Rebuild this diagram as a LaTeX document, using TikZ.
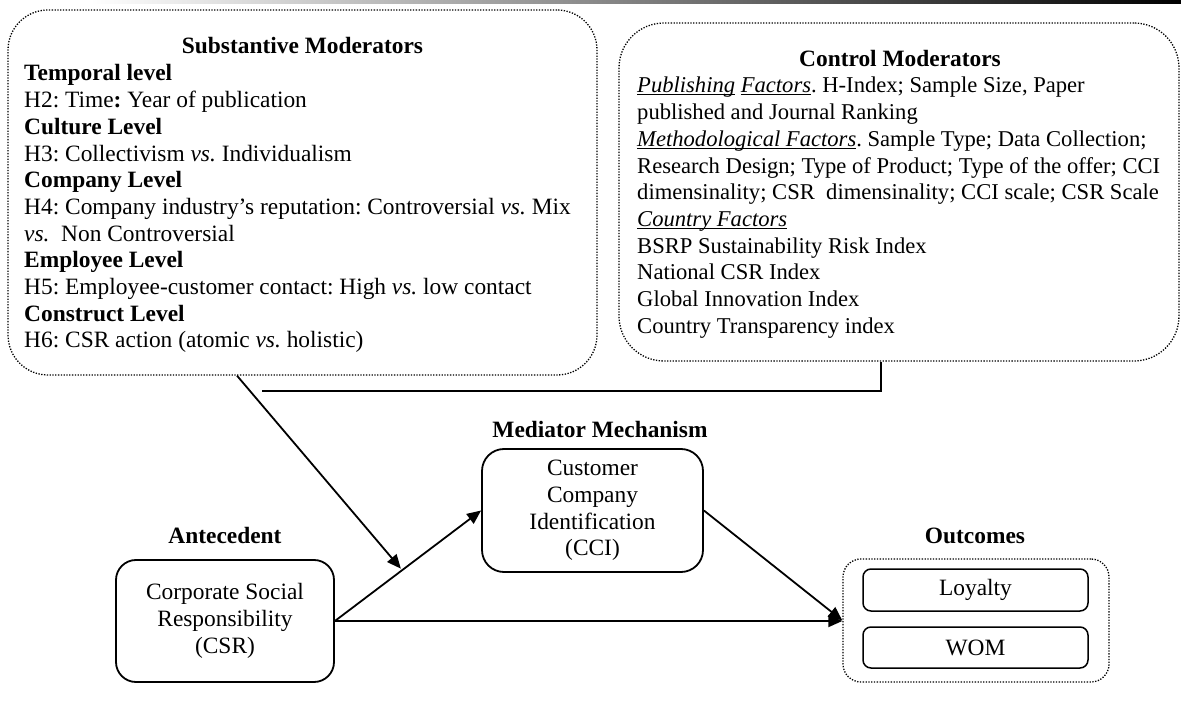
\documentclass[tikz,border=0pt]{standalone}
\usepackage{fontspec}
\setmainfont{Liberation Serif}
\usetikzlibrary{arrows.meta,calc}
\newcommand\bodyfont{\fontsize{23.4}{26.7}\selectfont}
\newcommand\ctlfont{\fontsize{22.6}{26.7}\selectfont}
\newcommand\ulit[1]{\underline{\smash{\textit{#1}}}}
\frenchspacing
\begin{document}
\begin{tikzpicture}[x=1pt,y=-1pt,
  outerbox/.style={draw, line width=1.3pt, dash pattern=on 1.3pt off 1.5pt, inner sep=0pt},
  solidbox/.style={draw, line width=1.8pt, align=center, inner sep=0pt, font=\bodyfont},
  lab/.style={font=\bodyfont\bfseries, inner sep=0pt, anchor=base},
  bodytext/.style={align=left, inner sep=0pt, anchor=base west},
  conn/.style={line width=1.8pt},
  arr/.style={conn, -{Triangle[length=14pt,width=12pt]}}]
\useasboundingbox (0,0) rectangle (1181,708);
\shade[left color=white, right color=black] (90,0) rectangle (1181,3.5);

% Substantive moderators
\node[outerbox, rounded corners=40pt, minimum width=589pt, minimum height=365pt] (sub) at (302.5,192.5) {};
\node[lab] (subtitle) at (302.5,53.5) {Substantive Moderators};
% anchor = baseline of the last line
\node[bodytext, font=\bodyfont] (subtext) at (24,348) {\textbf{Temporal level}\\
H2: Time\textbf{:} Year of publication\\
\textbf{Culture Level}\\
H3: Collectivism \textit{vs.} Individualism\\
\textbf{Company Level}\\
H4: Company industry’s reputation: Controversial \textit{vs.} Mix\\
\textit{vs.}\ \ Non Controversial\\
\textbf{Employee Level}\\
H5: Employee-customer contact: High \textit{vs.} low contact\\
\textbf{Construct Level}\\
H6: CSR action (atomic \textit{vs.} holistic)};

% Control moderators
\node[outerbox, rounded corners=45pt, minimum width=560pt, minimum height=338pt] (ctl) at (899,192) {};
\node[lab] (ctltitle) at (900,67) {Control Moderators};
\node[bodytext, font=\ctlfont] (ctltext) at (637,333.3) {\ulit{Publishing} \ulit{Factors}. H-Index; Sample Size, Paper\\
published and Journal Ranking\\
\ulit{Methodological Factors}. Sample Type; Data Collection;\\
Research Design; Type of Product; Type of the offer; CCI\\
dimensinality; CSR\ \ dimensinality; CCI scale; CSR Scale\\
\ulit{Country Factors}\\
BSRP Sustainability Risk Index\\
National CSR Index\\
Global Innovation Index\\
Country Transparency index};

% Bottom model
\node[solidbox, rounded corners=20pt, minimum width=218pt, minimum height=122pt] (csr) at (225,621) {Corporate Social\\ Responsibility\\ (CSR)};
\node[lab] (antlab) at (225,543) {Antecedent};
\node[solidbox, rounded corners=22pt, minimum width=221pt, minimum height=123pt] (cci) at (592.5,510.5) {Customer\\ Company\\ Identification\\ (CCI)};
\node[lab] (medlab) at (600,438) {Mediator Mechanism};
\node[outerbox, rounded corners=18pt, minimum width=266pt, minimum height=123pt] (out) at (976,620.5) {};
\node[lab] (outlab) at (975,543) {Outcomes};
\node[solidbox, line width=1.5pt, rounded corners=8pt, minimum width=225pt, minimum height=42pt] (loy) at (975.5,590) {Loyalty};
\node[solidbox, line width=1.5pt, rounded corners=8pt, minimum width=225pt, minimum height=41pt] (wom) at (975.5,647.5) {WOM};

% Connectors
\coordinate (mod) at ($(csr.east)!0.46!(cci.west)$);
\coordinate (cx) at (881,391);
\coordinate (cend) at (262,391);
\draw[arr] (csr.east) -- (cci.west);
\draw[arr, shorten >=2pt] ($(sub.south west)!0.389!(sub.south east)$) -- (mod);
\draw[conn] (ctl.south -| cx) -- (cx) -- (cend);
\draw[arr] (csr.east) -- (csr.east -| out.west);
\draw[arr] (cci.east) -- (out.west);
\end{tikzpicture}
\end{document}
